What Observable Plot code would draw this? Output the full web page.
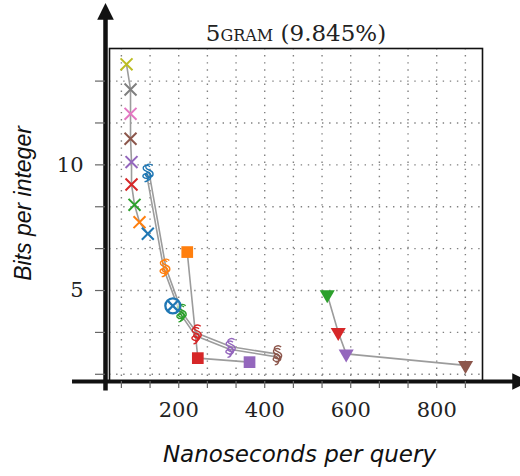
<!DOCTYPE html>
<html>
<head>
<meta charset="utf-8">
<script src="https://cdn.jsdelivr.net/npm/d3@7"></script>
<script src="https://cdn.jsdelivr.net/npm/@observablehq/plot@0.6"></script>
<style>
  html, body { margin: 0; padding: 0; background: #fff; }
  #chart svg { display: block; }
</style>
</head>
<body>
<div id="chart"></div>
<script>
// ---------- texts & ticks ----------
const title = "5gram (9.845%)";
const xLabel = "Nanoseconds per query";
const yLabel = "Bits per integer";
const xTickLabels = [200, 400, 600, 800];
const yTickLabels = [5, 10];
const xMinorTicks = [66.67, 133.33, 200, 266.67, 333.33, 400, 466.67, 533.33, 600, 666.67, 733.33, 800, 866.67];
const yMinorTicks = [1.667, 3.333, 5, 6.667, 8.333, 10, 11.667, 13.333];

// ---------- series: "x" markers ----------
const crossNs   = [78.6, 87.9, 87.9, 87.9, 90.2, 90.2, 97.2, 108.8, 128.1];
const crossBits = [14.0, 13.0, 12.03, 11.04, 10.11, 9.22, 8.41, 7.72, 7.26];
const crossKey  = ["s9", "s8", "s7", "s6", "s5", "s4", "s3", "s2", "s1"];

// ---------- series: curly markers (two overlapping runs) ----------
const curlyANs   = [125, 165, 204, 239, 318, 428];
const curlyABits = [9.65, 5.87, 4.07, 3.2, 2.66, 2.36];
const curlyBNs   = [131, 170, 208, 243, 322, 430];
const curlyBBits = [9.7, 5.92, 4.12, 3.3, 2.76, 2.47];
const curlyKey   = ["s1", "s2", "s3", "s4", "s5", "s6"];

// ---------- series: squares ----------
const squareNs   = [219.8, 244.4, 364.7];
const squareBits = [6.53, 2.31, 2.15];
const squareKey  = ["s2", "s4", "s5"];

// ---------- series: down triangles ----------
const triNs   = [545.4, 571, 589.5, 867];
const triBits = [4.84, 3.34, 2.48, 2.02];
const triKey  = ["s3", "s4", "s5", "s6"];

// ---------- single circled x ----------
const circNs   = [186.3];
const circBits = [4.39];
const circKey  = ["s1"];

// ---------- styling ----------
const colorKeys = ["s1", "s2", "s3", "s4", "s5", "s6", "s7", "s8", "s9"];
const colorHex  = ["#1f77b4", "#ff7f0e", "#2ca02c", "#d62728", "#9467bd", "#8c564b", "#e377c2", "#7f7f7f", "#bcbd22"];

const zip = (xs, ys, ks) => xs.map((x, i) => ({ns: x, bits: ys[i], key: ks[i]}));
const cross = zip(crossNs, crossBits, crossKey);
const curlyA = zip(curlyANs, curlyABits, curlyKey);
const curlyB = zip(curlyBNs, curlyBBits, curlyKey);
const squares = zip(squareNs, squareBits, squareKey);
const tris = zip(triNs, triBits, triKey);
const circ = zip(circNs, circBits, circKey);

const xDomain = [39, 906.5];
const yDomain = [1.38, 14.63];

const arrowHead = {
  draw(ctx) {
    ctx.moveTo(0, -8.5);
    ctx.lineTo(8.3, 8.3);
    ctx.lineTo(-8.3, 8.3);
    ctx.closePath();
  }
};

// curly "swirl" marker
const swirl = {
  draw(ctx) {
    ctx.moveTo(3.5, -7);
    ctx.bezierCurveTo(1, -9.5, -4.5, -8, -3, -4.5);
    ctx.bezierCurveTo(-2, -2, 4, -2.5, 4, 1.5);
    ctx.bezierCurveTo(4, 5, -1, 5.5, -3, 3.5);
    ctx.bezierCurveTo(-5, 1.5, -1, -1, 1, 1);
    ctx.bezierCurveTo(3, 3, 2, 8, -2, 8);
  }
};

const lineStyle = {x: "ns", y: "bits", stroke: "#9c9c9c", strokeWidth: 1.6};
const gridStyle = {stroke: "#808080", strokeOpacity: 1, strokeWidth: 1.4, strokeDasharray: "1.4,5.7"};

const chart = Plot.plot({
  width: 520,
  height: 476,
  marginLeft: 109,
  marginRight: 38,
  marginTop: 48,
  marginBottom: 95,
  style: {fontFamily: "Liberation Sans", background: "#fff", overflow: "visible"},
  x: {domain: xDomain, label: null},
  y: {domain: yDomain, label: null},
  color: {domain: colorKeys, range: colorHex},
  marks: [
    Plot.gridX(xMinorTicks, gridStyle),
    Plot.gridY(yMinorTicks, gridStyle),
    Plot.frame({stroke: "#111", strokeWidth: 1.6}),

    // connecting lines
    Plot.line(cross, lineStyle),
    Plot.line(curlyA, lineStyle),
    Plot.line(curlyB, lineStyle),
    Plot.line(squares, lineStyle),
    Plot.line(tris, lineStyle),

    // markers
    Plot.dot(cross, {x: "ns", y: "bits", symbol: "times", r: 5.5, stroke: "key", strokeWidth: 2}),
    Plot.dot(curlyA, {x: "ns", y: "bits", symbol: swirl, stroke: "key", fill: "none", strokeWidth: 1.4}),
    Plot.dot(curlyB, {x: "ns", y: "bits", symbol: swirl, stroke: "key", fill: "none", strokeWidth: 1.4}),
    Plot.dot(squares, {x: "ns", y: "bits", symbol: "square", r: 6.6, fill: "key", stroke: "none"}),
    Plot.dot(tris, {x: "ns", y: "bits", symbol: "triangle", rotate: 180, r: 5.6, fill: "key", stroke: "none"}),
    Plot.dot(circ, {x: "ns", y: "bits", r: 7.5, stroke: "key", strokeWidth: 2.3, fill: "white", fillOpacity: 0.6}),
    Plot.dot(circ, {x: "ns", y: "bits", symbol: "times", r: 4.9, stroke: "key", strokeWidth: 2.3}),

    // arrowed axes
    Plot.ruleY([yDomain[0]], {x1: -47, x2: 995, stroke: "#111", strokeWidth: 4}),
    Plot.ruleX([xDomain[0]], {dx: -4, y1: 1.0, y2: 16.1, stroke: "#111", strokeWidth: 4.5}),
    Plot.dot([{ns: xDomain[0], bits: 16.1}], {x: "ns", y: "bits", dx: -4, symbol: arrowHead, fill: "#111", stroke: "none"}),
    Plot.dot([{ns: 995, bits: yDomain[0]}], {x: "ns", y: "bits", rotate: 90, symbol: arrowHead, fill: "#111", stroke: "none"}),

    // ticks
    Plot.axisX(xMinorTicks, {tickSize: 7, text: null, label: null, stroke: "#666", strokeWidth: 1.2}),
    Plot.axisY(yMinorTicks, {tickSize: 10, dx: -4, text: null, label: null, stroke: "#666", strokeWidth: 1.2}),
    Plot.axisX(xTickLabels, {tickSize: 0, tickPadding: 21, fontSize: 21, fontFamily: "DejaVu Serif", fill: "#222", label: null}),
    Plot.axisY(yTickLabels, {tickSize: 0, tickPadding: 26, fontSize: 21, fontFamily: "DejaVu Serif", fill: "#222", label: null}),

    // texts
    Plot.text([title], {text: d => d, frameAnchor: "top", dy: -15, lineAnchor: "middle", fontSize: 23, fontFamily: "DejaVu Serif", fontVariant: "small-caps", fill: "#222"}),
    Plot.text([xLabel], {text: d => d, frameAnchor: "bottom", dy: 73, dx: 3.5, lineAnchor: "middle", fontSize: 23, fontStyle: "italic", fontFamily: "DejaVu Sans", fill: "#111"}),
    Plot.text([yLabel], {text: d => d, frameAnchor: "left", textAnchor: "middle", dx: -86, dy: -11.5, rotate: -90, lineAnchor: "middle", fontSize: 23, fontStyle: "italic", fontFamily: "Liberation Sans", fill: "#111"})
  ]
});
document.getElementById("chart").appendChild(chart);
</script>
</body>
</html>
